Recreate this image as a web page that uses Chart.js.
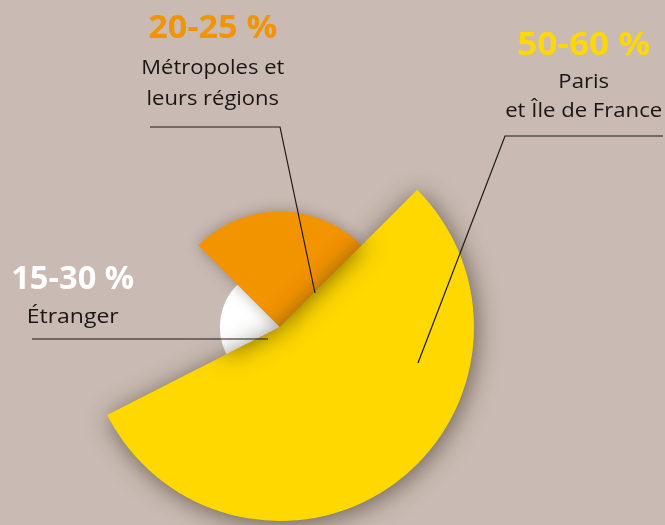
<!DOCTYPE html>
<html><head><meta charset="utf-8">
<script src="https://cdn.jsdelivr.net/npm/chart.js@4/dist/chart.umd.min.js"></script>
<style>html,body{margin:0;padding:0;background:#c9bab3;}canvas{display:block;}</style>
</head><body>
<canvas id="c" width="665" height="525"></canvas>
<script>
// ---- data ----
const categories = ['Étranger', 'Métropoles et leurs régions', 'Paris et Île de France'];
const shareLabels = ['15-30 %', '20-25 %', '50-60 %'];
const nameLines = [['Étranger'], ['Métropoles et', 'leurs régions'], ['Paris', 'et Île de France']];
const angleShares = [20, 25, 55];      // % of the full circle covered by each slice
const radiusValues = [31, 59.5, 100];  // relative radius of each slice
const sliceColors = ['#ffffff', '#f29300', '#ffd800'];
const titleColors = ['#ffffff', '#f29300', '#ffd800'];

// ---- annotation layout (not data) ----
const FAMILY = "'Open Sans', 'DejaVu Sans', sans-serif";
const TITLE_PX = 31.5, NAME_PX = 19.5;
const annotations = [
  { cx: 72.7, titleBase: 289, titleW: 123, lineBases: [323], lineW: 92,
    leader: [[32, 339], [268, 339]] },
  { cx: 212.8, titleBase: 38.3, titleW: 129, lineBases: [74, 105], lineW: 143,
    leader: [[150, 127], [280, 127], [315, 293]] },
  { cx: 583.7, titleBase: 54.5, titleW: 133, lineBases: [88, 117], lineW: 157,
    leader: [[663, 136], [505, 136], [418, 363]] }
];

// draws text with its natural height, stretched horizontally to a measured width
function drawStretched(ctx, text, font, cx, base, scaleX) {
  ctx.save();
  ctx.font = font;
  ctx.translate(cx, base);
  ctx.scale(scaleX, 1);
  ctx.fillText(text, 0, 0);
  ctx.restore();
}

const shadowPlugin = {
  id: 'shadowDraw',
  beforeDatasetDraw(chart, args) {
    const ctx = chart.ctx;
    const els = args.meta.data;
    const shadows = [null,
      { c: 'rgba(50,35,20,0.35)', b: 14, x: 0, y: 0 },
      { c: 'rgba(45,35,15,0.6)', b: 24, x: 2, y: 3 }];
    els.forEach((el, i) => {
      ctx.save();
      const s = shadows[i];
      if (s) { ctx.shadowColor = s.c; ctx.shadowBlur = s.b; ctx.shadowOffsetX = s.x; ctx.shadowOffsetY = s.y; }
      el.draw(ctx);
      ctx.restore();
    });
    // inner shadow on the big slice, cast by the two smaller ones
    const big = els[2];
    ctx.save();
    ctx.beginPath();
    ctx.moveTo(big.x, big.y);
    ctx.arc(big.x, big.y, big.outerRadius, big.startAngle, big.endAngle);
    ctx.closePath();
    ctx.clip();
    const off = 5000;
    ctx.shadowColor = 'rgba(70,55,0,0.75)';
    ctx.shadowBlur = 26;
    ctx.shadowOffsetX = off;
    ctx.fillStyle = '#000';
    for (let i = 0; i < 2; i++) {
      const el = els[i];
      ctx.beginPath();
      ctx.moveTo(el.x - off, el.y);
      ctx.arc(el.x - off, el.y, el.outerRadius, el.startAngle, el.endAngle);
      ctx.closePath();
      ctx.fill();
    }
    ctx.restore();
    return false;
  },
  afterDraw(chart) {
    const ctx = chart.ctx;
    ctx.save();
    annotations.forEach((a, i) => {
      ctx.strokeStyle = '#1e1a18';
      ctx.lineWidth = 1.2;
      ctx.beginPath();
      a.leader.forEach((p, k) => k ? ctx.lineTo(p[0], p[1]) : ctx.moveTo(p[0], p[1]));
      ctx.stroke();

      ctx.textAlign = 'center';
      ctx.textBaseline = 'alphabetic';
      const tFont = 'bold ' + TITLE_PX + 'px ' + FAMILY;
      ctx.font = tFont;
      const tw = ctx.measureText(shareLabels[i]).width;
      ctx.fillStyle = titleColors[i];
      drawStretched(ctx, shareLabels[i], tFont, a.cx, a.titleBase, a.titleW / tw);

      const nFont = 'normal ' + NAME_PX + 'px ' + FAMILY;
      ctx.font = nFont;
      const nw = Math.max(...nameLines[i].map(t => ctx.measureText(t).width));
      ctx.fillStyle = '#1a1614';
      nameLines[i].forEach((t, k) => drawStretched(ctx, t, nFont, a.cx, a.lineBases[k], a.lineW / nw));
    });
    ctx.restore();
  }
};

new Chart(document.getElementById('c'), {
  type: 'polarArea',
  data: {
    labels: categories,
    datasets: [{
      data: radiusValues,
      backgroundColor: sliceColors,
      borderWidth: 0,
      angle: ctx => angleShares[ctx.dataIndex] * 3.6
    }]
  },
  options: {
    responsive: false,
    animation: false,
    layout: { padding: { left: 86, top: 133, right: 191, bottom: 4 } },
    plugins: { legend: { display: false }, tooltip: { enabled: false } },
    scales: {
      r: { min: 0, max: 100, display: false, startAngle: 243 }
    }
  },
  plugins: [shadowPlugin]
});
</script>
</body></html>
